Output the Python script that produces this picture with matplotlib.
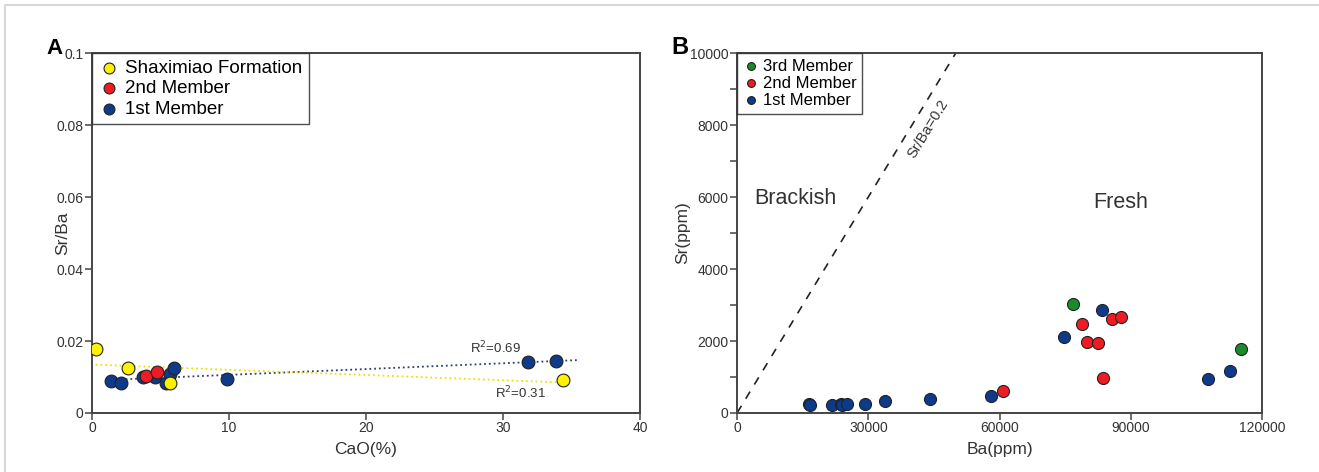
import numpy as np
import matplotlib.pyplot as plt
from matplotlib.patches import Rectangle

plt.rcParams['font.family'] = ['Liberation Sans', 'DejaVu Sans']

# Panel A: CaO(%) vs Sr/Ba
cao_shax = [0.26, 2.6, 5.7, 34.4]
srba_shax = [0.0177, 0.0124, 0.0083, 0.0092]
cao_m2 = [3.96, 4.76]
srba_m2 = [0.0102, 0.0115]
cao_m1 = [1.4, 2.14, 3.7, 4.6, 5.4, 5.7, 6.0, 9.84, 31.8, 33.9]
srba_m1 = [0.0088, 0.0082, 0.0100, 0.0100, 0.0082, 0.0109, 0.0126, 0.0095, 0.0141, 0.0144]

# Panel B: Ba(ppm) vs Sr(ppm)
ba_m3 = [76800, 115200]
sr_m3 = [3020, 1774]
ba_m2 = [60800, 78900, 79900, 82400, 83600, 85700, 87800]
sr_m2 = [610, 2485, 1968, 1940, 979, 2614, 2680]
ba_m1 = [16450, 16700, 21800, 23700, 24000, 25200, 29200, 33800, 44000, 58100,
         74800, 83400, 107600, 112700]
sr_m1 = [240, 222, 230, 260, 212, 250, 240, 323, 388, 471,
         2125, 2854, 951, 1164]

c_yel = '#fff200'
c_red = '#ed1c24'
c_blu = '#0e3a8a'
c_grn = '#1a8a2a'
spine_c = '#444444'
txt_c = '#333333'

fig = plt.figure(figsize=(13.19, 4.72), dpi=100)
axA = fig.add_axes([0.0698, 0.125, 0.4154, 0.7627])
axB = fig.add_axes([0.5588, 0.125, 0.398, 0.7627])

# light frame round the figure
fig.patches.append(Rectangle((0.004, -0.05), 1.2, 1.04, transform=fig.transFigure,
                             fill=False, edgecolor='#cfcfcf', linewidth=1.2))

# ---- A ----
# trend lines
fb = np.polyfit(cao_m1, srba_m1, 1)
xb = np.linspace(min(cao_m1), max(cao_m1) + 1.6, 50)
axA.plot(xb, np.polyval(fb, xb), ':', color='#2a3f7a', lw=1.3, zorder=2)
fy = np.polyfit(cao_shax, srba_shax, 1)
xy = np.linspace(min(cao_shax), max(cao_shax) + 0.2, 50)
axA.plot(xy, np.polyval(fy, xy), ':', color='#f0e000', lw=1.3, zorder=2)

axA.scatter(cao_m1, srba_m1, s=85, c=c_blu, edgecolors='#222222', linewidths=0.8,
            label='1st Member', zorder=3)
axA.scatter(cao_m2, srba_m2, s=85, c=c_red, edgecolors='#222222', linewidths=0.8,
            label='2nd Member', zorder=4)
axA.scatter(cao_shax, srba_shax, s=85, c=c_yel, edgecolors='#222222', linewidths=0.8,
            label='Shaximiao Formation', zorder=4)

axA.text(27.6, 0.0166, 'R$^2$=0.69', fontsize=9.5, color=txt_c)
axA.text(29.4, 0.0042, 'R$^2$=0.31', fontsize=9.5, color=txt_c)

axA.set_xlim(0, 40)
axA.set_ylim(0, 0.1)
axA.set_xticks([0, 10, 20, 30, 40])
axA.set_yticks([0, 0.02, 0.04, 0.06, 0.08, 0.1])
axA.set_yticklabels(['0', '0.02', '0.04', '0.06', '0.08', '0.1'])
axA.set_xlabel('CaO(%)', fontsize=12.5, color=txt_c, labelpad=5)
axA.set_ylabel('Sr/Ba', fontsize=12.5, color=txt_c)
axA.yaxis.set_label_coords(-0.04, 0.5)

h, l = axA.get_legend_handles_labels()
legA = axA.legend(h[::-1], l[::-1], loc='upper left', bbox_to_anchor=(0, 1),
                  borderaxespad=0, fontsize=13.5, frameon=True, fancybox=False,
                  handletextpad=0.3, borderpad=0.35, labelspacing=0.18,
                  handlelength=1.1, markerscale=0.85)
legA.get_frame().set_edgecolor('#222222')
legA.get_frame().set_linewidth(1.0)

fig.text(0.035, 0.885, 'A', fontsize=16, fontweight='bold')

# ---- B ----
ref_ba = np.array([0, 60000])
axB.plot(ref_ba, 0.2 * ref_ba, '--', color='#222222', lw=1.2, dashes=(5, 5), zorder=1)
axB.text(43700, 7900, 'Sr/Ba=0.2', rotation=58.7, ha='center', va='center',
         fontsize=10.5, color=txt_c)
axB.text(4000, 5970, 'Brackish', fontsize=15.5, color=txt_c, va='center')
axB.text(87600, 5860, 'Fresh', fontsize=15.5, color=txt_c, ha='center', va='center')

axB.scatter(ba_m1, sr_m1, s=75, c=c_blu, edgecolors='#222222', linewidths=0.8,
            label='1st Member', zorder=3)
axB.scatter(ba_m2, sr_m2, s=75, c=c_red, edgecolors='#222222', linewidths=0.8,
            label='2nd Member', zorder=3)
axB.scatter(ba_m3, sr_m3, s=75, c=c_grn, edgecolors='#222222', linewidths=0.8,
            label='3rd Member', zorder=3)

axB.set_xlim(0, 120000)
axB.set_ylim(0, 10000)
axB.set_xticks([0, 30000, 60000, 90000, 120000])
axB.set_yticks([0, 2000, 4000, 6000, 8000, 10000])
axB.set_yticks(np.arange(1000, 10000, 2000), minor=True)
axB.set_xlabel('Ba(ppm)', fontsize=12.5, color=txt_c, labelpad=5)
axB.set_ylabel('Sr(ppm)', fontsize=12.5, color=txt_c)
axB.yaxis.set_label_coords(-0.089, 0.5)

h, l = axB.get_legend_handles_labels()
legB = axB.legend(h[::-1], l[::-1], loc='upper left', bbox_to_anchor=(0, 1),
                  borderaxespad=0, fontsize=12, frameon=True, fancybox=False,
                  handletextpad=0.2, borderpad=0.35, labelspacing=0.12,
                  handlelength=1.0, markerscale=0.65)
legB.get_frame().set_edgecolor('#222222')
legB.get_frame().set_linewidth(1.0)

fig.text(0.509, 0.885, 'B', fontsize=17, fontweight='bold')

for ax in (axA, axB):
    for sp in ax.spines.values():
        sp.set_color(spine_c)
        sp.set_linewidth(1.4)
    ax.tick_params(which='both', direction='out', length=5, width=1.1, pad=1,
                   color=spine_c, labelsize=10, labelcolor=txt_c)
    ax.tick_params(which='minor', length=5)

fig.savefig('out.png', dpi=100)
